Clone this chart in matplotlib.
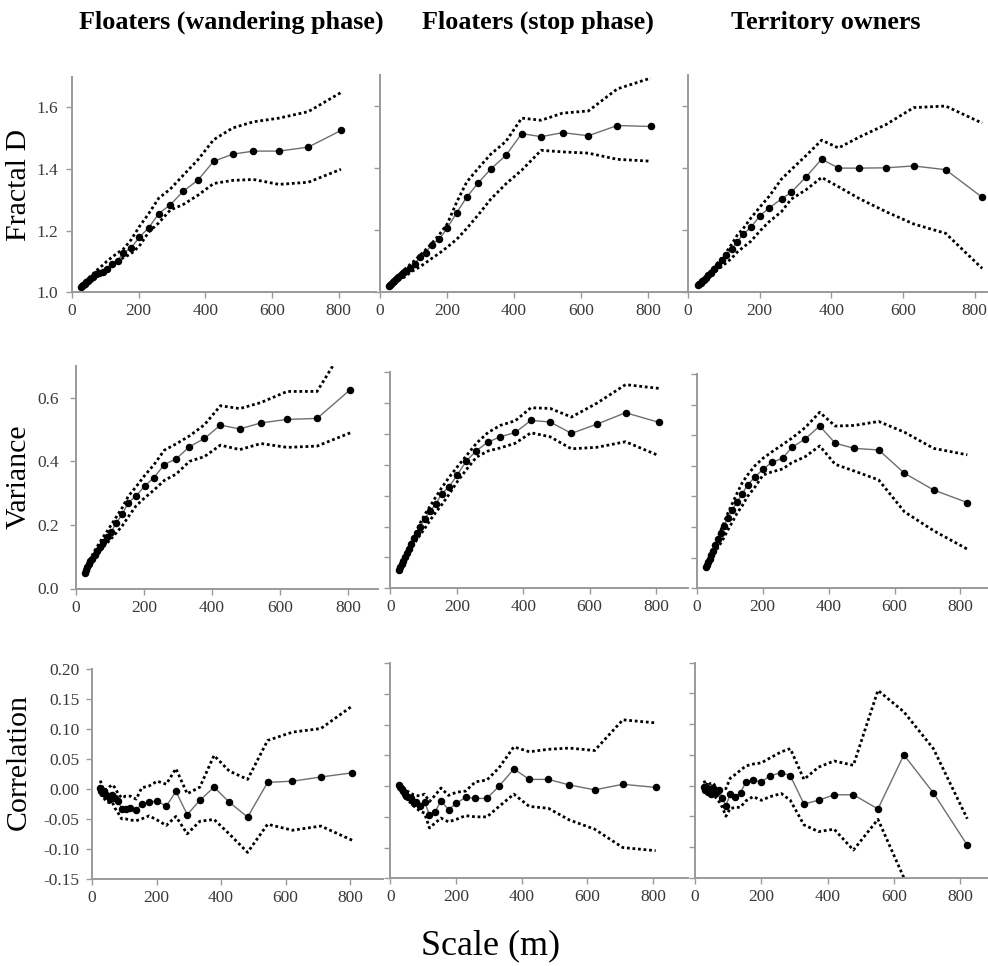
import matplotlib
matplotlib.use("Agg")
import matplotlib.pyplot as plt

# scale (m) for each group
x_wander = [26, 29, 33, 38, 43, 49, 55, 63, 71, 81, 92, 104, 119, 137, 154, 177, 202, 230, 260, 295, 334, 378, 425, 482, 544, 621, 709, 807]
x_stop = [27, 30, 34, 38, 43, 49, 55, 63, 71, 79, 89, 104, 119, 136, 154, 177, 201, 229, 259, 294, 331, 376, 423, 481, 545, 622, 708, 808]
x_owner = [28, 31, 35, 39, 44, 50, 56, 64, 73, 83, 94, 107, 122, 138, 154, 176, 201, 227, 261, 288, 329, 373, 420, 478, 552, 630, 719, 821]

# Fractal D
fd_wander = [1.018, 1.020, 1.024, 1.028, 1.033, 1.038, 1.044, 1.051, 1.058, 1.063, 1.067, 1.076, 1.091, 1.103, 1.128, 1.143, 1.179, 1.209, 1.255, 1.284, 1.328, 1.364, 1.425, 1.448, 1.458, 1.458, 1.471, 1.525]
fd_wander_hi = [1.021, 1.025, 1.030, 1.034, 1.039, 1.045, 1.052, 1.060, 1.068, 1.078, 1.088, 1.100, 1.113, 1.128, 1.140, 1.170, 1.213, 1.255, 1.305, 1.335, 1.380, 1.430, 1.495, 1.533, 1.553, 1.565, 1.586, 1.648]
fd_wander_lo = [1.015, 1.017, 1.020, 1.023, 1.027, 1.031, 1.036, 1.042, 1.049, 1.057, 1.065, 1.073, 1.083, 1.100, 1.112, 1.125, 1.150, 1.195, 1.225, 1.267, 1.285, 1.315, 1.353, 1.363, 1.366, 1.350, 1.357, 1.399]
fd_stop = [1.018, 1.021, 1.026, 1.031, 1.036, 1.042, 1.048, 1.056, 1.063, 1.068, 1.078, 1.091, 1.112, 1.127, 1.153, 1.170, 1.207, 1.256, 1.306, 1.353, 1.397, 1.441, 1.511, 1.501, 1.514, 1.504, 1.537, 1.534]
fd_stop_hi = [1.020, 1.024, 1.029, 1.034, 1.040, 1.047, 1.054, 1.063, 1.071, 1.078, 1.088, 1.102, 1.118, 1.136, 1.156, 1.185, 1.220, 1.290, 1.355, 1.400, 1.445, 1.486, 1.561, 1.554, 1.577, 1.584, 1.655, 1.690]
fd_stop_lo = [1.016, 1.018, 1.021, 1.024, 1.028, 1.032, 1.036, 1.042, 1.047, 1.053, 1.062, 1.072, 1.081, 1.094, 1.108, 1.125, 1.145, 1.170, 1.205, 1.250, 1.300, 1.349, 1.393, 1.457, 1.452, 1.448, 1.428, 1.422]
fd_owner = [1.024, 1.027, 1.031, 1.035, 1.041, 1.047, 1.055, 1.063, 1.074, 1.088, 1.104, 1.120, 1.140, 1.163, 1.187, 1.210, 1.247, 1.272, 1.301, 1.322, 1.371, 1.429, 1.400, 1.400, 1.401, 1.407, 1.395, 1.306]
fd_owner_hi = [1.025, 1.029, 1.034, 1.039, 1.045, 1.052, 1.060, 1.070, 1.080, 1.095, 1.110, 1.130, 1.155, 1.185, 1.205, 1.240, 1.275, 1.310, 1.365, 1.395, 1.440, 1.490, 1.465, 1.500, 1.540, 1.595, 1.600, 1.545]
fd_owner_lo = [1.022, 1.025, 1.028, 1.032, 1.036, 1.041, 1.047, 1.055, 1.063, 1.073, 1.083, 1.095, 1.110, 1.130, 1.145, 1.165, 1.198, 1.228, 1.260, 1.300, 1.330, 1.370, 1.340, 1.302, 1.260, 1.220, 1.190, 1.077]

# Variance
var_wander = [0.050, 0.058, 0.067, 0.076, 0.085, 0.094, 0.105, 0.117, 0.130, 0.145, 0.163, 0.178, 0.207, 0.234, 0.270, 0.291, 0.322, 0.349, 0.390, 0.408, 0.446, 0.472, 0.514, 0.502, 0.521, 0.532, 0.535, 0.626]
var_wander_hi = [0.055, 0.064, 0.074, 0.084, 0.095, 0.106, 0.118, 0.132, 0.146, 0.163, 0.180, 0.200, 0.225, 0.255, 0.290, 0.320, 0.355, 0.390, 0.435, 0.455, 0.480, 0.515, 0.575, 0.566, 0.585, 0.620, 0.620, 0.790]
var_wander_lo = [0.045, 0.052, 0.060, 0.068, 0.077, 0.086, 0.096, 0.107, 0.118, 0.130, 0.143, 0.157, 0.175, 0.198, 0.225, 0.260, 0.285, 0.310, 0.340, 0.360, 0.400, 0.415, 0.451, 0.437, 0.456, 0.444, 0.448, 0.490]
var_stop = [0.060, 0.068, 0.078, 0.088, 0.100, 0.113, 0.128, 0.145, 0.162, 0.180, 0.200, 0.225, 0.250, 0.272, 0.306, 0.329, 0.367, 0.413, 0.446, 0.474, 0.491, 0.505, 0.544, 0.539, 0.502, 0.532, 0.569, 0.538]
var_stop_hi = [0.063, 0.072, 0.082, 0.093, 0.105, 0.118, 0.133, 0.150, 0.168, 0.186, 0.210, 0.240, 0.265, 0.295, 0.325, 0.360, 0.393, 0.430, 0.470, 0.505, 0.528, 0.543, 0.585, 0.583, 0.555, 0.600, 0.660, 0.648]
var_stop_lo = [0.055, 0.063, 0.072, 0.081, 0.091, 0.102, 0.114, 0.128, 0.142, 0.157, 0.172, 0.195, 0.220, 0.245, 0.270, 0.305, 0.345, 0.385, 0.425, 0.445, 0.455, 0.470, 0.504, 0.491, 0.452, 0.457, 0.475, 0.430]
var_owner = [0.068, 0.075, 0.085, 0.095, 0.108, 0.123, 0.140, 0.160, 0.180, 0.205, 0.230, 0.255, 0.281, 0.308, 0.338, 0.363, 0.389, 0.411, 0.425, 0.460, 0.488, 0.530, 0.474, 0.457, 0.452, 0.376, 0.321, 0.280]
var_owner_hi = [0.072, 0.080, 0.090, 0.100, 0.113, 0.128, 0.145, 0.165, 0.190, 0.215, 0.245, 0.275, 0.310, 0.345, 0.370, 0.400, 0.425, 0.445, 0.470, 0.490, 0.525, 0.575, 0.530, 0.532, 0.545, 0.510, 0.457, 0.436]
var_owner_lo = [0.063, 0.070, 0.078, 0.086, 0.096, 0.106, 0.118, 0.132, 0.148, 0.167, 0.190, 0.215, 0.245, 0.270, 0.300, 0.330, 0.370, 0.380, 0.390, 0.410, 0.430, 0.465, 0.405, 0.383, 0.354, 0.250, 0.188, 0.128]

# Correlation
cor_wander = [0.001, -0.003, -0.006, -0.004, -0.010, -0.012, -0.016, -0.010, -0.015, -0.020, -0.033, -0.033, -0.031, -0.035, -0.025, -0.022, -0.020, -0.029, -0.004, -0.043, -0.019, 0.003, -0.022, -0.047, 0.011, 0.013, 0.020, 0.027]
cor_wander_hi = [0.014, 0.008, 0.003, -0.001, -0.003, 0.000, 0.004, 0.007, 0.002, -0.008, -0.015, -0.012, -0.012, -0.017, 0.002, 0.005, 0.013, 0.008, 0.034, -0.008, 0.003, 0.056, 0.030, 0.016, 0.081, 0.095, 0.101, 0.139]
cor_wander_lo = [-0.012, -0.010, -0.012, -0.016, -0.020, -0.022, -0.023, -0.022, -0.032, -0.040, -0.050, -0.050, -0.052, -0.053, -0.050, -0.045, -0.052, -0.061, -0.046, -0.075, -0.054, -0.051, -0.075, -0.106, -0.059, -0.069, -0.062, -0.086]
cor_stop = [0.002, -0.002, -0.005, -0.008, -0.012, -0.016, -0.018, -0.020, -0.028, -0.026, -0.032, -0.025, -0.047, -0.042, -0.024, -0.038, -0.028, -0.018, -0.020, -0.020, 0.000, 0.028, 0.011, 0.011, 0.002, -0.006, 0.003, -0.002]
cor_stop_hi = [0.005, 0.002, -0.001, -0.004, -0.006, -0.008, -0.009, -0.012, -0.014, -0.015, -0.016, -0.013, -0.025, -0.015, -0.003, -0.015, -0.010, -0.008, 0.007, 0.010, 0.030, 0.064, 0.056, 0.060, 0.062, 0.058, 0.108, 0.103]
cor_stop_lo = [-0.003, -0.006, -0.009, -0.012, -0.016, -0.020, -0.024, -0.028, -0.032, -0.036, -0.040, -0.044, -0.068, -0.060, -0.052, -0.058, -0.054, -0.048, -0.050, -0.050, -0.033, -0.013, -0.033, -0.036, -0.055, -0.070, -0.100, -0.105]
cor_owner = [-0.002, -0.008, -0.003, -0.010, -0.005, -0.013, -0.004, -0.012, -0.008, -0.020, -0.033, -0.014, -0.018, -0.012, 0.006, 0.009, 0.006, 0.016, 0.021, 0.016, -0.030, -0.024, -0.015, -0.015, -0.038, 0.050, -0.012, -0.097]
cor_owner_hi = [0.008, 0.004, 0.000, 0.006, 0.004, 0.002, 0.004, -0.003, -0.010, -0.005, -0.005, 0.012, 0.018, 0.025, 0.032, 0.035, 0.037, 0.045, 0.055, 0.060, 0.010, 0.030, 0.040, 0.033, 0.155, 0.120, 0.060, -0.054]
cor_owner_lo = [-0.004, -0.010, -0.006, -0.014, -0.010, -0.018, -0.012, -0.020, -0.026, -0.035, -0.050, -0.037, -0.036, -0.035, -0.025, -0.018, -0.024, -0.018, -0.013, -0.024, -0.064, -0.075, -0.071, -0.105, -0.055, -0.150, -0.260, -0.380]

titles = ["Floaters (wandering phase)", "Floaters (stop phase)", "Territory owners"]
row_labels = ["Fractal D", "Variance", "Correlation"]

plt.rcParams['font.family'] = ['Liberation Serif', 'DejaVu Serif']
plt.rcParams['axes.unicode_minus'] = False

W, H = 988, 966
fig = plt.figure(figsize=(W / 100, H / 100), dpi=100)

# panel geometry in pixels: x of zero, px per metre, right edge, top, bottom
geom = [
    [(72, 0.3333, 376, 76.5, 292.3), (380, 0.335, 686, 75, 292), (688, 0.3583, 988, 75, 292.3)],
    [(75.8, 0.3403, 378, 366, 588.5), (390.4, 0.3321, 688, 372.3, 588.3), (696.8, 0.3295, 988, 374, 588.3)],
    [(92, 0.3228, 383, 669.3, 878.7), (390.4, 0.3283, 688, 663.3, 878.3), (694.7, 0.332, 988, 662.7, 877.7)],
]
ylims = [(1.0, 1.7), (0.0, 0.7), (-0.15, 0.20)]
yticks = [
    [[1.0, 1.2, 1.4, 1.6]] * 3,
    [[0.0, 0.2, 0.4, 0.6], [0.0, 0.1, 0.2, 0.3, 0.4, 0.5, 0.6, 0.7], [0.0, 0.1, 0.2, 0.3, 0.4, 0.5, 0.6, 0.7]],
    [[-0.15, -0.10, -0.05, 0.0, 0.05, 0.10, 0.15, 0.20]] * 3,
]
yfmt = ["{:.1f}", "{:.1f}", "{:.2f}"]
ypad = [6, 8, 5]

xs = [x_wander, x_stop, x_owner]
data = [
    [(fd_wander, fd_wander_hi, fd_wander_lo), (fd_stop, fd_stop_hi, fd_stop_lo), (fd_owner, fd_owner_hi, fd_owner_lo)],
    [(var_wander, var_wander_hi, var_wander_lo), (var_stop, var_stop_hi, var_stop_lo), (var_owner, var_owner_hi, var_owner_lo)],
    [(cor_wander, cor_wander_hi, cor_wander_lo), (cor_stop, cor_stop_hi, cor_stop_lo), (cor_owner, cor_owner_hi, cor_owner_lo)],
]

spine_col = "#9a9a9a"
for r in range(3):
    for c in range(3):
        x0, ppu, xr, yt, yb = geom[r][c]
        ax = fig.add_axes([x0 / W, 1 - yb / H, (xr - x0) / W, (yb - yt) / H])
        ax.patch.set_alpha(0)
        mean, hi, lo = data[r][c]
        x = xs[c]
        ax.plot(x, hi, color="black", lw=2.0, linestyle=(0, (1, 1.0)))
        ax.plot(x, lo, color="black", lw=2.0, linestyle=(0, (1, 1.0)))
        ax.plot(x, mean, color="#6e6e6e", lw=1.0, marker="o", markersize=4.4,
                markerfacecolor="black", markeredgecolor="black")
        ax.set_xlim(0, (xr - x0) / ppu)
        ax.set_ylim(*ylims[r])
        ax.set_xticks([0, 200, 400, 600, 800])
        ax.set_yticks(yticks[r][c])
        if c == 0:
            ax.set_yticklabels([yfmt[r].format(v) for v in yticks[r][c]])
        else:
            ax.set_yticklabels([])
        for s in ["top", "right"]:
            ax.spines[s].set_visible(False)
        for s in ["left", "bottom"]:
            ax.spines[s].set_color(spine_col)
            ax.spines[s].set_linewidth(1.4)
        ax.tick_params(direction="out", length=4, width=1, color=spine_col,
                       labelsize=12.5, labelcolor="#3a3a3a")
        ax.tick_params(axis="x", pad=4)
        ax.tick_params(axis="y", pad=ypad[r])

for i, t in enumerate(titles):
    fig.text([231, 538, 826][i] / W, 1 - 22 / H, t, ha="center", va="center",
             fontsize=18.8, fontweight="bold")
for i, t in enumerate(row_labels):
    fig.text(19 / W, 1 - [185, 477, 762][i] / H, t, ha="center", va="center",
             rotation=90, fontsize=21.5)
fig.text(491 / W, 1 - 946 / H, "Scale (m)", ha="center", va="center", fontsize=26)

fig.savefig("out.png", dpi=100)
